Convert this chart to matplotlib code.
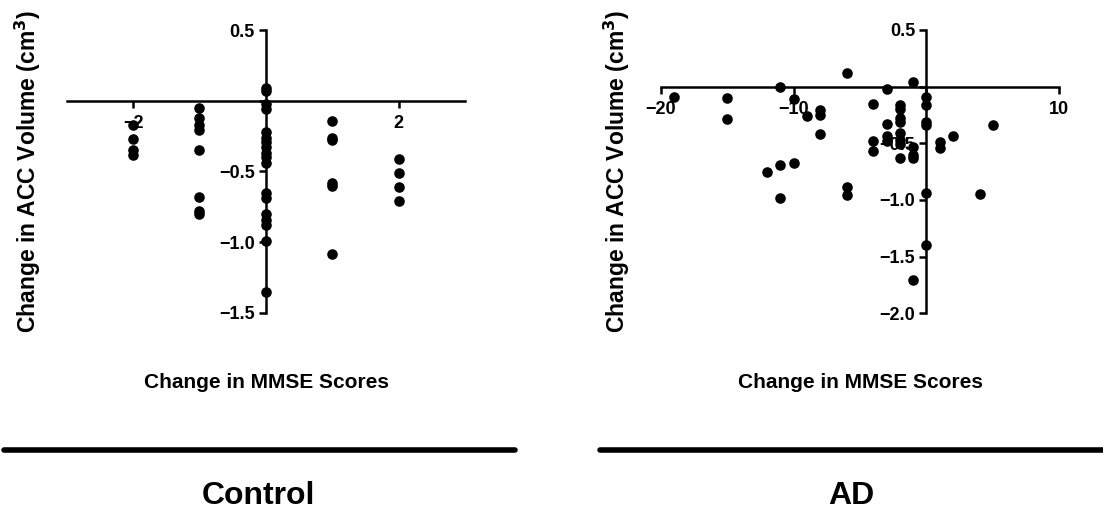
import matplotlib
matplotlib.use("Agg")
import matplotlib.pyplot as plt
from matplotlib.ticker import FixedLocator, FuncFormatter

plt.rcParams["font.family"] = ["Liberation Sans", "DejaVu Sans"]
plt.rcParams["font.weight"] = "bold"

# Control group: change in MMSE vs change in ACC volume
ctrl_x = [-2, -2, -2, -2,
          -1, -1, -1, -1, -1, -1, -1, -1,
          0, 0, 0, 0, 0, 0, 0, 0, 0, 0, 0, 0, 0, 0, 0, 0, 0, 0,
          1, 1, 1, 1, 1, 1,
          2, 2, 2, 2]
ctrl_y = [-0.17, -0.27, -0.35, -0.38,
          -0.05, -0.12, -0.17, -0.21, -0.35, -0.68, -0.78, -0.80,
          0.09, 0.07, -0.02, -0.06, -0.22, -0.26, -0.29, -0.33, -0.37, -0.40,
          -0.44, -0.65, -0.69, -0.80, -0.84, -0.88, -0.99, -1.35,
          -0.14, -0.26, -0.28, -0.58, -0.60, -1.08,
          -0.41, -0.51, -0.61, -0.71]

# AD group
ad_x = [-19, -15, -15, -11, -10, -9, -8, -8, -8, -12, -11, -10, -11,
        -6, -6, -6,
        -4, -4, -4,
        -3, -3, -3, -3,
        -2, -2, -2, -2, -2, -2, -2, -2,
        -1, -1, -1, -1, -1,
        0, 0, 0, 0, 0, 0,
        1, 1, 2, 5, 4]
ad_y = [-0.09, -0.10, -0.29, 0.0, -0.11, -0.26, -0.21, -0.25, -0.42, -0.75, -0.69, -0.67, -0.98,
        0.12, -0.89, -0.96,
        -0.15, -0.48, -0.57,
        -0.02, -0.33, -0.44, -0.48,
        -0.16, -0.20, -0.28, -0.31, -0.41, -0.47, -0.51, -0.63,
        0.04, -0.53, -0.60, -0.63, -1.71,
        -0.09, -0.16, -0.31, -0.34, -0.94, -1.40,
        -0.49, -0.54, -0.44, -0.34, -0.95]

ctrl_xticks = [-2, 0, 2]
ctrl_yticks = [0.5, 0.0, -0.5, -1.0, -1.5]
ad_xticks = [-20, -10, 0, 10]
ad_yticks = [0.5, 0.0, -0.5, -1.0, -1.5, -2.0]

ylabel = "Change in ACC Volume (cm$^\\mathbf{3}$)"
xlabel = "Change in MMSE Scores"

fig = plt.figure(figsize=(11.03, 5.12), dpi=100)


def fmt_x(v, pos):
    if v == 0:
        return ""
    return f"{v:.0f}".replace("-", "\u2212")


def fmt_y(v, pos):
    if v == 0:
        return ""
    return f"{v:.1f}".replace("-", "\u2212")


def setup(ax, x, y, xlim, ylim, xticks, yticks):
    ax.scatter(x, y, s=58, color="black", zorder=3, clip_on=False, linewidths=0)
    ax.set_xlim(*xlim)
    ax.set_ylim(*ylim)
    ax.spines["left"].set_position(("data", 0))
    ax.spines["bottom"].set_position(("data", 0))
    ax.spines["top"].set_visible(False)
    ax.spines["right"].set_visible(False)
    for s in ("left", "bottom"):
        ax.spines[s].set_linewidth(1.8)
    ax.xaxis.set_major_locator(FixedLocator(xticks))
    ax.yaxis.set_major_locator(FixedLocator(yticks))
    ax.xaxis.set_major_formatter(FuncFormatter(fmt_x))
    ax.yaxis.set_major_formatter(FuncFormatter(fmt_y))
    ax.tick_params(axis="x", direction="out", length=5, width=1.8, pad=5, labelsize=13)
    ax.tick_params(axis="y", direction="out", length=5, width=1.8, pad=3, labelsize=13)
    for lab in ax.get_xticklabels() + ax.get_yticklabels():
        lab.set_fontweight("bold")
    ax.patch.set_alpha(0)


ax1 = fig.add_axes([0.0605, 0.3887, 0.3611, 0.5527])
setup(ax1, ctrl_x, ctrl_y, (-3, 3), (-1.5, 0.5), ctrl_xticks, ctrl_yticks)

ax2 = fig.add_axes([0.599, 0.3881, 0.3614, 0.5534])
setup(ax2, ad_x, ad_y, (-20, 10), (-2.0, 0.5), ad_xticks, ad_yticks)

# axis titles
fig.text(28 / 1103, 1 - 333 / 512, ylabel, rotation=90, ha="center", va="bottom",
         fontsize=16.5, fontweight="bold")
fig.text(617 / 1103, 1 - 333 / 512, ylabel, rotation=90, ha="center", va="bottom",
         fontsize=16.5, fontweight="bold")
fig.text(267 / 1103, 1 - 383 / 512, xlabel, ha="center", va="center",
         fontsize=15, fontweight="bold")
fig.text(860 / 1103, 1 - 383 / 512, xlabel, ha="center", va="center",
         fontsize=15, fontweight="bold")

# group bars and names
fig.add_artist(plt.Line2D([4 / 1103, 515 / 1103], [1 - 450 / 512, 1 - 450 / 512],
                          color="black", linewidth=4, solid_capstyle="round"))
fig.add_artist(plt.Line2D([600 / 1103, 1.0], [1 - 450 / 512, 1 - 450 / 512],
                          color="black", linewidth=4, solid_capstyle="round"))
fig.text(258 / 1103, 1 - 496 / 512, "Control", ha="center", va="center",
         fontsize=23, fontweight="bold")
fig.text(851 / 1103, 1 - 496 / 512, "AD", ha="center", va="center",
         fontsize=23, fontweight="bold")

fig.savefig("out.png", dpi=100)
